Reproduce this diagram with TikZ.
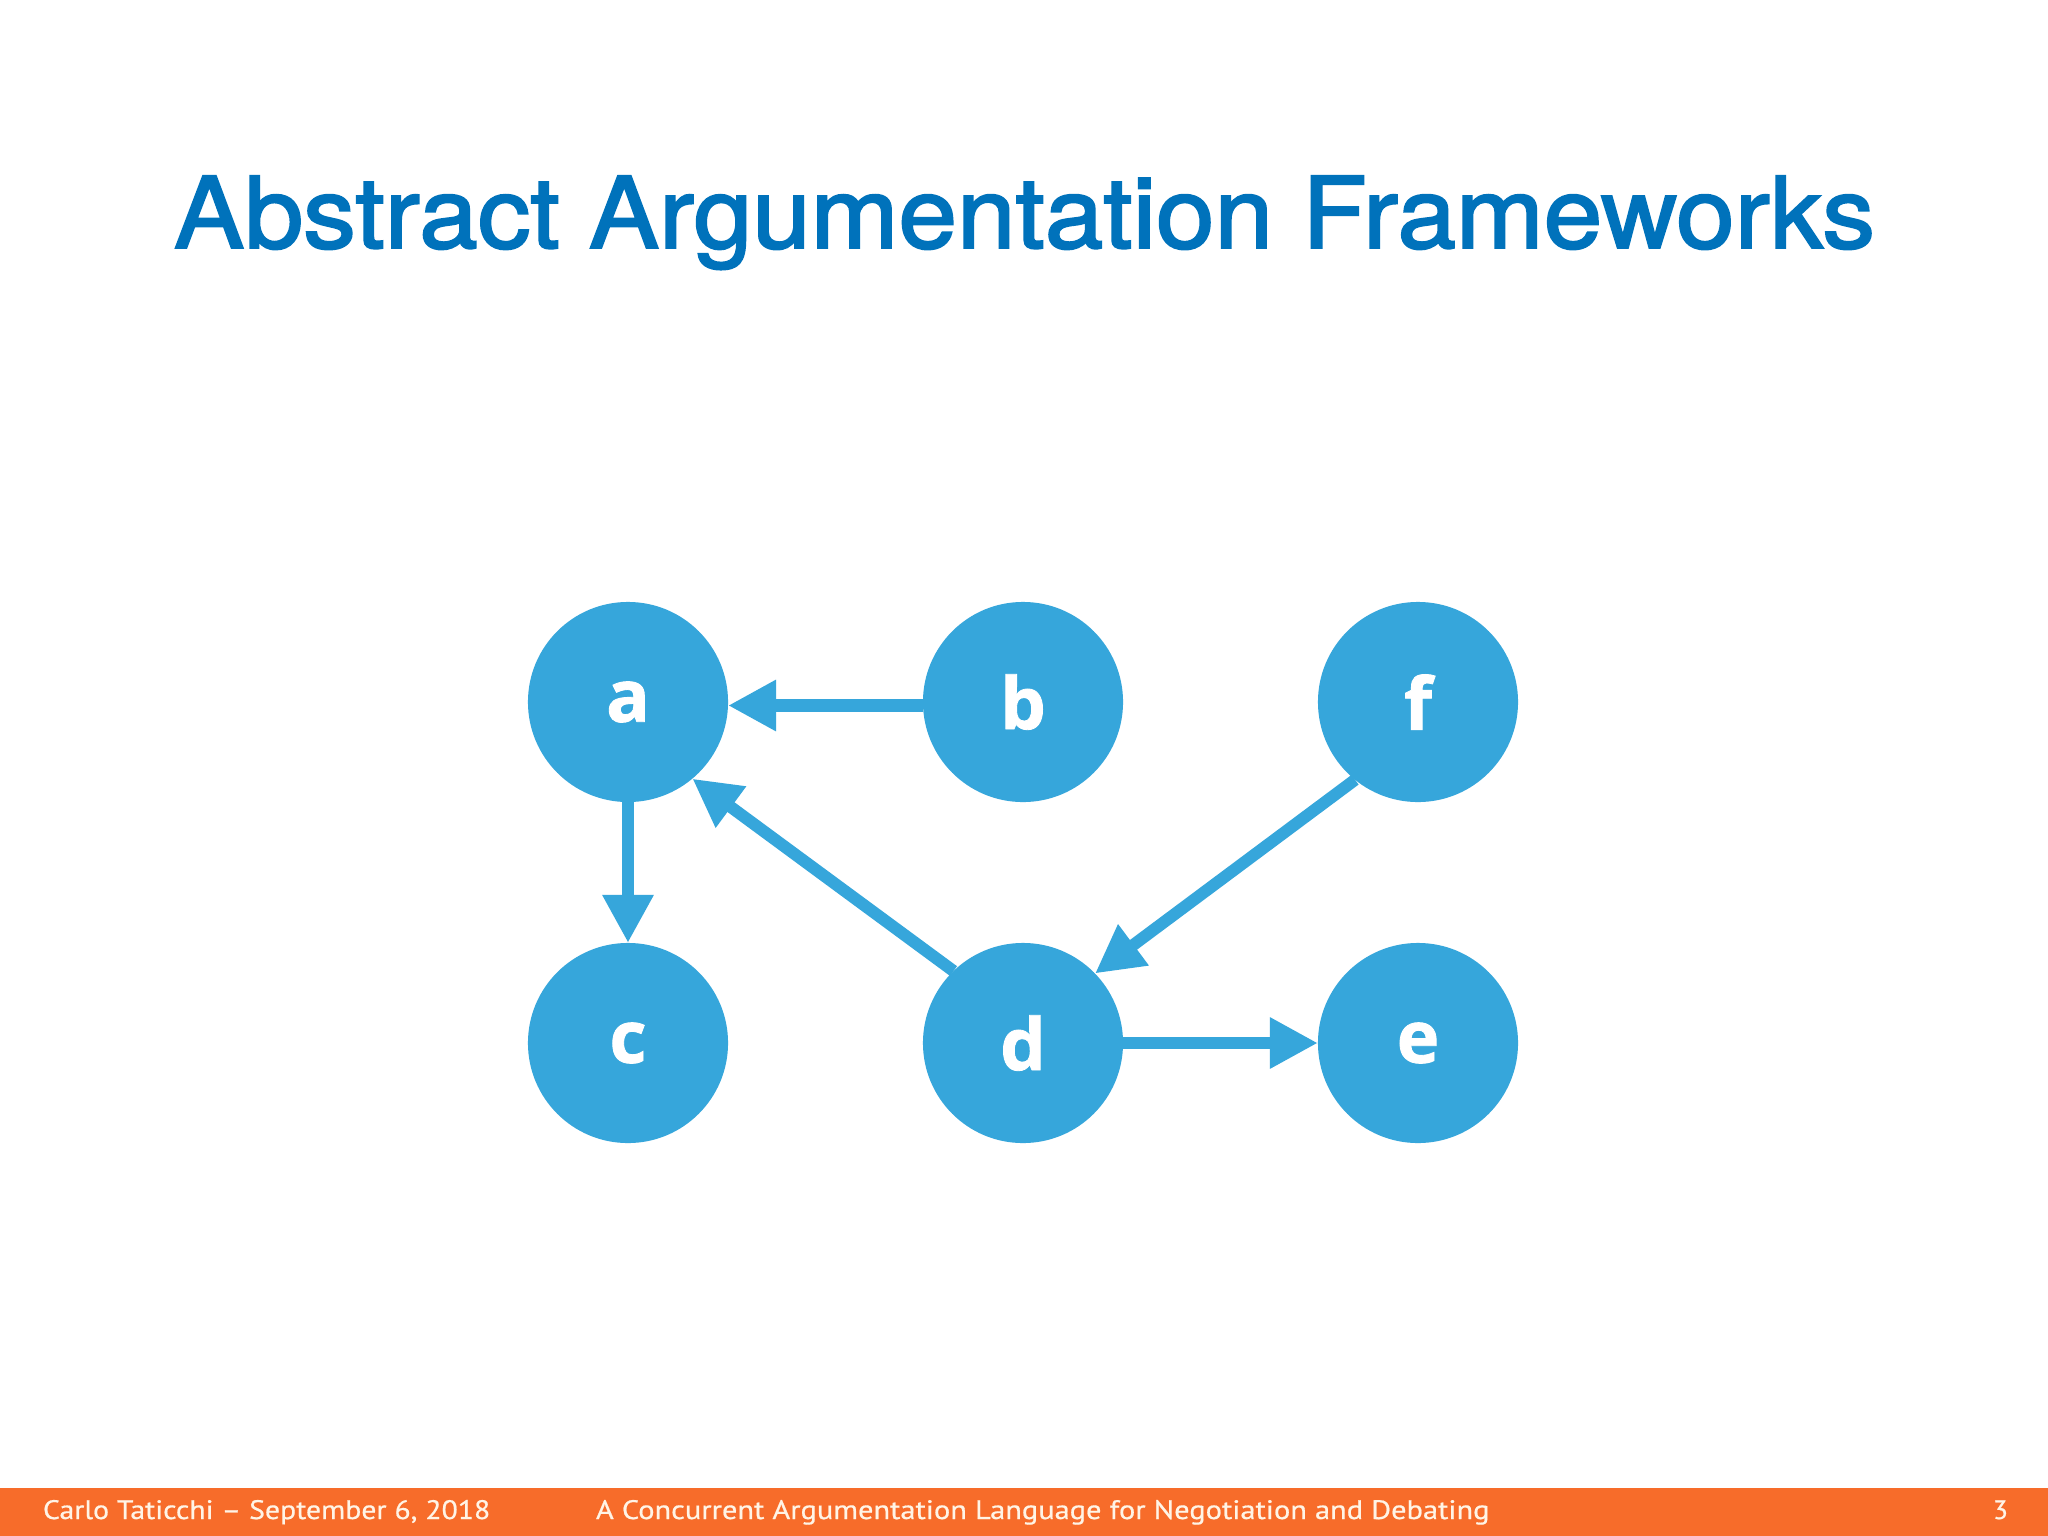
\documentclass[tikz,border=0pt]{standalone}
\usepackage{fontspec}
\setmainfont{TeX Gyre Heros}
\newfontfamily\titlefont{TeX Gyre Heros}[FakeBold=2]
\newfontfamily\argfont{Open Sans}[BoldFeatures={FakeBold=1.2}]
\newfontfamily\footfont{PT Sans}[FakeBold=0.6]
\usetikzlibrary{arrows.meta}
\definecolor{nodeblue}{HTML}{36A6DB}
\definecolor{titleblue}{HTML}{0072BB}
\definecolor{footorange}{HTML}{F76C2A}
\definecolor{foottext}{HTML}{FFF4E6}
\newsavebox\myfitbox
\newlength\myfitlen
\newcommand\myfitx[2]{\sbox\myfitbox{#2}\setlength\myfitlen{\wd\myfitbox}\pgfmathsetmacro\myfitratio{#1/\myfitlen}\scalebox{\myfitratio}[1]{\usebox\myfitbox}}
\begin{document}
\begin{tikzpicture}[x=0.01cm,y=-0.01cm,
  arg/.style={circle, fill=nodeblue, minimum size=2cm, inner sep=0pt, outer sep=0pt,
    text=white, font=\argfont\bfseries\fontsize{20.5pt}{24pt}\selectfont},
  att/.style={draw=nodeblue, line width=0.12cm, -{Triangle[length=0.48cm,width=0.48cm]}},
  foot/.style={text=foottext, anchor=base west, inner sep=0pt, outer sep=0pt,
    font=\footfont\fontsize{7.6pt}{8.5pt}\selectfont}]
\useasboundingbox (0,0) rectangle (2048,1536);
\fill[white] (0,0) rectangle (2048,1536);
\fill[footorange] (0,1488) rectangle (2048,1536);

\node[anchor=base west, inner sep=0pt, outer sep=0pt, text=titleblue,
  font=\titlefont\fontsize{28.1pt}{32pt}\selectfont] (title) at (174,248)
  {\myfitx{17cm}{Abstract Argumentation Frameworks}};

\node[arg] (a) at (628,702) {a};
\node[arg] (b) at (1023,702) {b};
\node[arg] (f) at (1418,702) {f};
\node[arg] (c) at (628,1043) {c};
\node[arg] (d) at (1023,1043) {d};
\node[arg] (e) at (1418,1043) {e};

\draw[att] (b.182.3) -- (a.-2.3);
\draw[att] (a.south) -- (c.north);
\draw[att] (d.134) -- (a.-50);
\draw[att] (f.231) -- (d.44);
\draw[att] (d.east) -- (e.west);

\node[foot] (fl) at (43,1519) {\myfitx{4.47cm}{Carlo Taticchi – September 6, 2018}};
\node[foot] (fm) at (596,1519) {\myfitx{8.93cm}{A Concurrent Argumentation Language for Negotiation and Debating}};
\node[foot] (fr) at (1993,1519) {\myfitx{0.15cm}{3}};
\end{tikzpicture}
\end{document}
